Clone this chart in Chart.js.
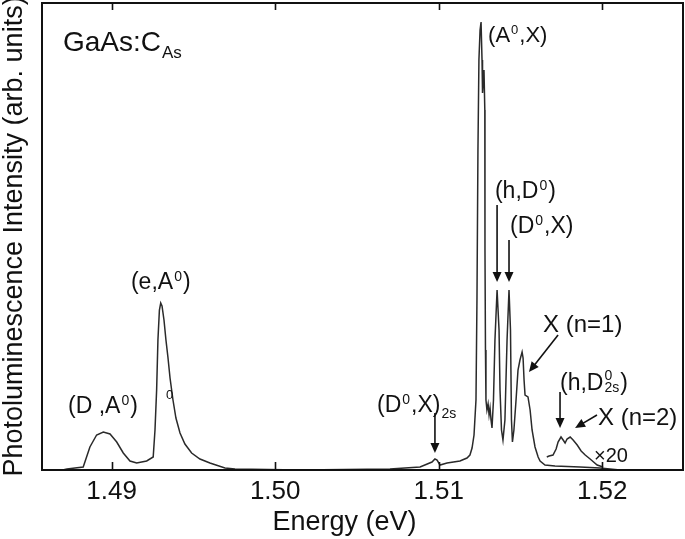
<!DOCTYPE html>
<html>
<head>
<meta charset="utf-8">
<title>GaAs:C photoluminescence</title>
<script src="https://cdn.jsdelivr.net/npm/chart.js@4.4.0/dist/chart.umd.min.js"></script>
<style>
    html, body { margin: 0; padding: 0; background: #ffffff; }
    #wrap { width: 685px; height: 539px; }
</style>
</head>
<body>
<div id="wrap"><canvas id="plChart" width="685" height="539"></canvas></div>
<script>
/* ===========================
   DATA
   =========================== */

// Energy (eV) and PL intensity (arb. units) of the full spectrum
const energy = [
    1.48700, 1.48727, 1.48776, 1.48826, 1.48867, 1.48908, 1.48949, 1.48990, 1.49031, 1.49071,
    1.49112, 1.49153, 1.49214, 1.49254, 1.49265, 1.49275, 1.49283, 1.49292, 1.49300, 1.49308,
    1.49320, 1.49332, 1.49344, 1.49357, 1.49375, 1.49393, 1.49418, 1.49448, 1.49489, 1.49540,
    1.49601, 1.49693, 1.49754, 1.50152, 1.50702, 1.50886, 1.50959, 1.50977, 1.50990, 1.51008,
    1.51051, 1.51130, 1.51173, 1.51191, 1.51204, 1.51216, 1.51228, 1.51234, 1.51240, 1.51246,
    1.51253, 1.51259, 1.51265, 1.51268, 1.51271, 1.51277, 1.51282, 1.51283, 1.51286, 1.51289,
    1.51295, 1.51302, 1.51308, 1.51314, 1.51320, 1.51326, 1.51335, 1.51344, 1.51357, 1.51369,
    1.51375, 1.51384, 1.51393, 1.51405, 1.51418, 1.51430, 1.51439, 1.51445, 1.51451, 1.51460,
    1.51473, 1.51485, 1.51497, 1.51510, 1.51516, 1.51522, 1.51528, 1.51546, 1.51559, 1.51571,
    1.51589, 1.51608, 1.51620, 1.51650, 1.51711, 1.51864, 1.51986, 1.52109
];
const intensity = [
    0, 1, 2, 3, 23, 35, 38, 36, 28, 17,
    9, 7, 9, 13, 40, 80, 130, 160, 167, 164,
    150, 130, 113, 92, 70, 52, 37, 26, 17, 11,
    7, 2, 1, 0, 1, 3, 8, 11, 10, 5,
    7, 9, 12, 15, 22, 35, 70, 170, 320, 410,
    440, 448, 410, 377, 385, 400, 360, 220, 120, 70,
    60, 66, 55, 62, 50, 42, 70, 130, 180, 140,
    80, 40, 30, 50, 130, 180, 140, 50, 28, 40,
    70, 100, 110, 118, 112, 90, 75, 73, 60, 40,
    23, 13, 9, 5, 4, 3, 2, 0
];

// Magnified (x20) part near the band edge
const x20Energy = [
    1.51661, 1.51675, 1.51699, 1.51718, 1.51730, 1.51748, 1.51761, 1.51773, 1.51785,
    1.51804, 1.51822, 1.51847, 1.51871, 1.51896, 1.51926, 1.51969, 1.52005
];
const x20Intensity = [
    13, 14, 15, 21, 28, 33, 30, 27, 31,
    33, 30, 25, 19, 15, 11, 5, 3
];

const tickValues = [1.49, 1.50, 1.51, 1.52];
const tickLabels = ['1.49', '1.50', '1.51', '1.52'];

const FONT = '"Liberation Sans", Arial, Helvetica, sans-serif';

// Peak labels, anchored in data coordinates (left edge, baseline)
const peakLabels = [
    { e: 1.48702, v: 419, size: 28, parts: [['GaAs:C', 'n'], ['As', 'sub']] },
    { e: 1.51302, v: 428, size: 22, parts: [['(A', 'n'], ['0', 'sup'], [',X)', 'n']] },
    { e: 1.51344, v: 272, size: 23, parts: [['(h,D', 'n'], ['0', 'sup'], [')', 'n']] },
    { e: 1.51436, v: 237, size: 23, parts: [['(D', 'n'], ['0', 'sup'], [',X)', 'n']] },
    { e: 1.51638, v: 138, size: 24, parts: [['X (n=1)', 'n']] },
    { e: 1.51742, v: 80,  size: 23, parts: [['(h,D', 'n'], ['0|2s', 'supsub'], [')', 'n']] },
    { e: 1.51974, v: 45,  size: 24, parts: [['X (n=2)', 'n']] },
    { e: 1.51950, v: 8,   size: 20, parts: [['\u00d720', 'n']] },
    { e: 1.50623, v: 58,  size: 23, parts: [['(D', 'n'], ['0', 'sup'], [',X)', 'n'], ['2s', 'sub']] },
    { e: 1.48733, v: 57,  size: 23, parts: [['(D ,A', 'n'], ['0', 'sup'], [')', 'n']] },
    { e: 1.49332, v: 71,  size: 13, parts: [['0', 'n']] },
    { e: 1.49118, v: 181, size: 23, parts: [['(e,A', 'n'], ['0', 'sup'], [')', 'n']] }
];

// Arrows: start -> tip, in data coordinates
const arrows = [
    { e1: 1.51357, v1: 265, e2: 1.51357, v2: 188 },
    { e1: 1.51430, v1: 230, e2: 1.51430, v2: 188 },
    { e1: 1.51730, v1: 135, e2: 1.51552, v2: 98 },
    { e1: 1.50977, v1: 57,  e2: 1.50977, v2: 17 },
    { e1: 1.51742, v1: 78,  e2: 1.51742, v2: 42 },
    { e1: 1.51968, v1: 55,  e2: 1.51834, v2: 42 }
];

/* ===========================
   DRAWING HELPERS
   =========================== */

function drawRich(ctx, x, y, parts, size) {
    const small = Math.round(size * 0.6);
    let cx = x;
    parts.forEach(([s, t]) => {
        if (t === 'n') {
            ctx.font = `${size}px ${FONT}`;
            ctx.fillText(s, cx, y);
            cx += ctx.measureText(s).width;
        } else if (t === 'sup') {
            ctx.font = `${small}px ${FONT}`;
            ctx.fillText(s, cx + 1, y - size * 0.36);
            cx += ctx.measureText(s).width + 2;
        } else if (t === 'sub') {
            ctx.font = `${small}px ${FONT}`;
            ctx.fillText(s, cx + 1, y + size * 0.24);
            cx += ctx.measureText(s).width + 2;
        } else if (t === 'supsub') {
            const [sup, sub] = s.split('|');
            ctx.font = `${small}px ${FONT}`;
            ctx.fillText(sup, cx + 1, y - size * 0.42);
            ctx.fillText(sub, cx + 1, y + size * 0.1);
            cx += Math.max(ctx.measureText(sup).width, ctx.measureText(sub).width) + 2;
        }
    });
}

function drawArrow(ctx, x1, y1, x2, y2) {
    const ang = Math.atan2(y2 - y1, x2 - x1);
    const head = 10, half = 4.5;
    ctx.beginPath();
    ctx.moveTo(x1, y1);
    ctx.lineTo(x2 - Math.cos(ang) * head * 0.8, y2 - Math.sin(ang) * head * 0.8);
    ctx.stroke();
    ctx.beginPath();
    ctx.moveTo(x2, y2);
    ctx.lineTo(x2 - Math.cos(ang) * head - Math.sin(ang) * half, y2 - Math.sin(ang) * head + Math.cos(ang) * half);
    ctx.lineTo(x2 - Math.cos(ang) * head + Math.sin(ang) * half, y2 - Math.sin(ang) * head - Math.cos(ang) * half);
    ctx.closePath();
    ctx.fill();
}

const decorPlugin = {
    id: 'decor',
    afterDraw(chart) {
        const { ctx, chartArea: area, scales: { x, y } } = chart;
        ctx.save();
        ctx.strokeStyle = '#111';
        ctx.fillStyle = '#111';

        // frame
        ctx.lineWidth = 2;
        ctx.strokeRect(area.left, area.top, area.right - area.left, area.bottom - area.top);

        // inward tick marks, bottom and top
        ctx.lineWidth = 1.6;
        x.ticks.forEach(t => {
            const px = Math.round(x.getPixelForValue(t.value)) + 0.5;
            ctx.beginPath();
            ctx.moveTo(px, area.bottom);
            ctx.lineTo(px, area.bottom - 8);
            ctx.moveTo(px, area.top);
            ctx.lineTo(px, area.top + 7);
            ctx.stroke();
        });

        // x axis title
        ctx.textAlign = 'center';
        ctx.textBaseline = 'alphabetic';
        ctx.font = `27px ${FONT}`;
        ctx.fillText('Energy (eV)', (area.left + area.right) / 2 - 18, 530);

        // peak labels
        ctx.textAlign = 'left';
        peakLabels.forEach(l => {
            drawRich(ctx, x.getPixelForValue(l.e), y.getPixelForValue(l.v), l.parts, l.size);
        });

        // arrows
        ctx.lineWidth = 1.6;
        arrows.forEach(a => {
            drawArrow(ctx, x.getPixelForValue(a.e1), y.getPixelForValue(a.v1),
                x.getPixelForValue(a.e2), y.getPixelForValue(a.v2));
        });
        ctx.restore();
    }
};

/* ===========================
   CHART
   =========================== */

new Chart(document.getElementById('plChart'), {
    type: 'line',
    data: {
        datasets: [
            {
                label: 'PL spectrum',
                data: energy.map((e, i) => ({ x: e, y: intensity[i] })),
                borderColor: '#2a2a2a',
                borderWidth: 1.5,
                pointRadius: 0,
                tension: 0,
                fill: false
            },
            {
                label: 'x20',
                data: x20Energy.map((e, i) => ({ x: e, y: x20Intensity[i] })),
                borderColor: '#2a2a2a',
                borderWidth: 1.5,
                pointRadius: 0,
                tension: 0,
                fill: false
            }
        ]
    },
    options: {
        responsive: false,
        animation: false,
        devicePixelRatio: 1,
        layout: { padding: { top: 3, right: 2, left: 0, bottom: 0 } },
        plugins: {
            legend: { display: false },
            tooltip: { enabled: false }
        },
        scales: {
            x: {
                type: 'linear',
                min: 1.48574,
                max: 1.52494,
                grid: { display: false },
                border: { display: false },
                afterBuildTicks: scale => { scale.ticks = tickValues.map(v => ({ value: v })); },
                afterFit: scale => { scale.height = 69; },
                ticks: {
                    padding: -2,
                    color: '#111',
                    font: { family: FONT, size: 26 },
                    maxRotation: 0,
                    callback: v => tickLabels[tickValues.indexOf(v)] ?? ''
                }
            },
            y: {
                min: 0,
                max: 467,
                grid: { display: false },
                border: { display: false },
                ticks: { display: false },
                afterFit: scale => { scale.width = 42; },
                title: {
                    display: true,
                    text: 'Photoluminescence Intensity (arb. units)',
                    color: '#111',
                    font: { family: FONT, size: 27, lineHeight: 1.1 },
                    padding: 0
                }
            }
        }
    },
    plugins: [decorPlugin]
});
</script>
</body>
</html>
